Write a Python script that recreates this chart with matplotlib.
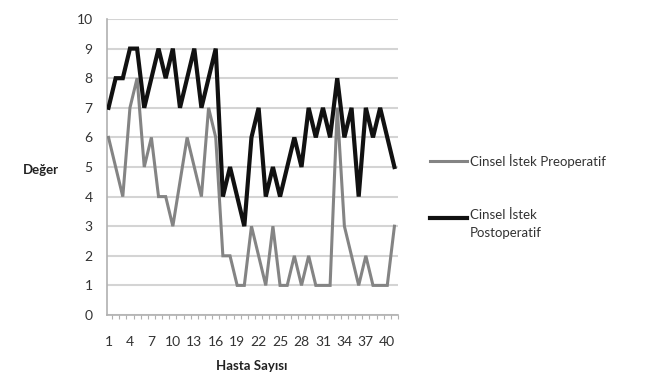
import matplotlib
matplotlib.use("Agg")
import matplotlib.pyplot as plt
from matplotlib.lines import Line2D
import numpy as np

plt.rcParams['font.family'] = ['Lato', 'DejaVu Sans']

patients = list(range(1, 42))
preop = [6, 5, 4, 7, 8, 5, 6, 4, 4, 3,
         4.5, 6, 5, 4, 7, 6, 2, 2, 1, 1,
         3, 2, 1, 3, 1, 1, 2, 1, 2, 1,
         1, 1, 7, 3, 2, 1, 2, 1, 1, 1, 3]
postop = [7, 8, 8, 9, 9, 7, 8, 9, 8, 9,
          7, 8, 9, 7, 8, 9, 4, 5, 4, 3,
          6, 7, 4, 5, 4, 5, 6, 5, 7, 6,
          7, 6, 8, 6, 7, 4, 7, 6, 7, 6, 5]
label_pre = "Cinsel İstek Preoperatif"
label_post = "Cinsel İstek\nPostoperatif"
xtick_labels = [str(v) for v in range(1, 42, 3)]

W, H = 648, 377
fig = plt.figure(figsize=(W / 100, H / 100), dpi=100)
ax = fig.add_axes([106.5 / W, 1 - 315 / H, (398 - 106.5) / W, (315 - 19) / H])

ax.plot(patients, preop, color='#848484', lw=2.2, solid_joinstyle='miter', zorder=3)
ax.plot(patients, postop, color='#111111', lw=3.0, solid_joinstyle='miter', zorder=4)

ax.set_xlim(0.72, 41.5)
ax.set_ylim(0, 10)
ax.set_yticks(range(0, 11))
ax.yaxis.grid(True, color='#d4d4d4', lw=1.5)
ax.set_axisbelow(True)

ax.set_xticks(list(range(1, 42, 3)))
ax.set_xticklabels(xtick_labels)
ax.set_xticks(np.arange(1.5, 41.6, 1), minor=True)
ax.tick_params(axis='x', which='major', length=0, pad=15, labelsize=10, colors='#333333')
ax.tick_params(axis='x', which='minor', length=3, color='#b0b0b0', width=0.8)
ax.tick_params(axis='y', length=0, pad=10, labelsize=10, colors='#333333')

for s in ['top', 'right']:
    ax.spines[s].set_visible(False)
ax.spines['left'].set_color('#b0b0b0')
ax.spines['bottom'].set_color('#b0b0b0')
ax.spines['left'].set_linewidth(1.2)
ax.spines['bottom'].set_linewidth(1.2)

fig.text(41 / W, 1 - 170 / H, "Değer", ha='center', va='center', fontsize=9.5,
         fontweight='bold', color='#222222')
fig.text(252 / W, 1 - 366 / H, "Hasta Sayısı", ha='center', va='center', fontsize=9.5,
         fontweight='bold', color='#222222')

# legend
fig.add_artist(Line2D([430 / W, 467 / W], [1 - 160.5 / H, 1 - 160.5 / H],
                      color='#848484', lw=2.2))
fig.add_artist(Line2D([430 / W, 467 / W], [1 - 218 / H, 1 - 218 / H],
                      color='#111111', lw=3.0))
fig.text(470 / W, 1 - 160.5 / H, label_pre, ha='left', va='center', fontsize=9.5,
         color='#333333')
fig.text(470 / W, 1 - 209 / H, label_post, ha='left', va='top', fontsize=9.5,
         color='#333333', linespacing=1.6)

fig.savefig("out.png", dpi=100)
